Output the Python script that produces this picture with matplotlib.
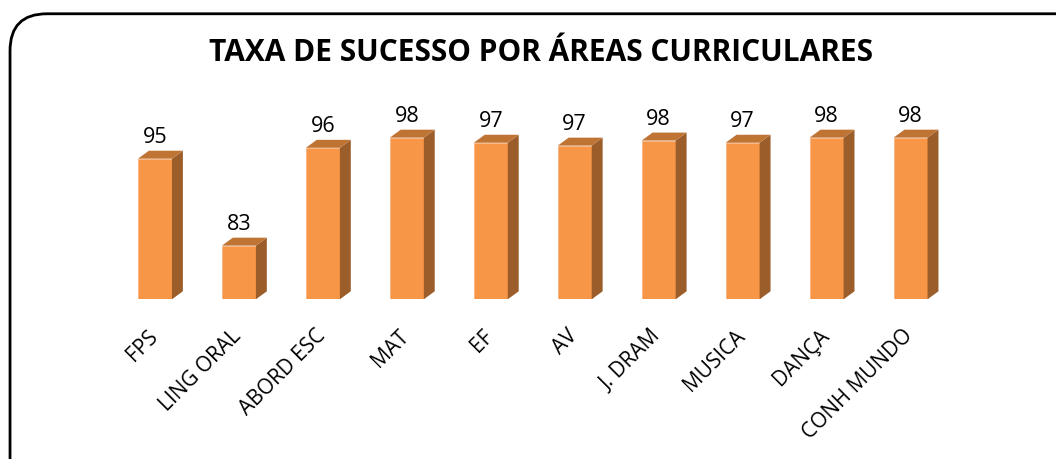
import numpy as np
import matplotlib.pyplot as plt
from matplotlib.patches import Polygon, FancyBboxPatch
import matplotlib.transforms as mtrans

areas = ['FPS', 'LING ORAL', 'ABORD ESC', 'MAT', 'EF', 'AV',
         'J. DRAM', 'MUSICA', 'DANÇA', 'CONH MUNDO']
values = [95, 83, 96, 98, 97, 97, 98, 97, 98, 98]
heights = [95.2, 83.2, 96.7, 98.1, 97.4, 97.0, 97.7, 97.4, 98.1, 98.1]

base = 75.8
front = '#F79646'
top_col = '#C07434'
side_col = '#9B5D2A'

fig = plt.figure(figsize=(10.56, 4.59), dpi=100)

# rounded frame, runs off the right and bottom edges
frame = FancyBboxPatch((0.0095, -0.2), 1.05, 1.17, boxstyle='round,pad=0,rounding_size=0.035',
                       transform=fig.transFigure, fill=False, lw=2, ec='black',
                       mutation_aspect=1056 / 459, clip_on=False)
fig.patches.append(frame)

ax = fig.add_axes([0.107, 0.348, 0.795, 0.54])
ax.set_xlim(-0.5, 9.5)
ax.set_ylim(base, 110)

w = 0.405
dx = 0.13
dy = 1.1
x = np.arange(len(areas))
for xi, h, v in zip(x, heights, values):
    l, r = xi - w / 2, xi + w / 2
    ax.add_patch(Polygon([(l, base), (r, base), (r, h), (l, h)], closed=True,
                         fc=front, ec='#F9B07A', lw=0.5))
    ax.add_patch(Polygon([(r, base), (r + dx, base + dy), (r + dx, h + dy), (r, h)],
                         closed=True, fc=side_col, ec='none'))
    ax.add_patch(Polygon([(l, h), (r, h), (r + dx, h + dy), (l + dx, h + dy)],
                         closed=True, fc=top_col, ec='none'))
    ax.annotate(str(v), (xi, h + dy), xytext=(0, 2), textcoords='offset points',
                ha='center', va='bottom', fontsize=15.5, family='Open Sans')

ax.set_xticks(x)
ax.set_xticklabels(areas, rotation=45, ha='right', rotation_mode='anchor',
                   fontsize=15, family='Open Sans')
ax.tick_params(axis='x', length=0, pad=19)
shift = mtrans.ScaledTranslation(-8 / 100, 0, fig.dpi_scale_trans)
for lab in ax.get_xticklabels():
    lab.set_transform(lab.get_transform() + shift)
ax.set_yticks([])
for s in ax.spines.values():
    s.set_visible(False)

fig.text(0.512, 0.884, 'TAXA DE SUCESSO POR ÁREAS CURRICULARES', ha='center', va='center',
         fontsize=21.5, fontweight='bold', family='Open Sans')

fig.savefig('out.png', dpi=100)
